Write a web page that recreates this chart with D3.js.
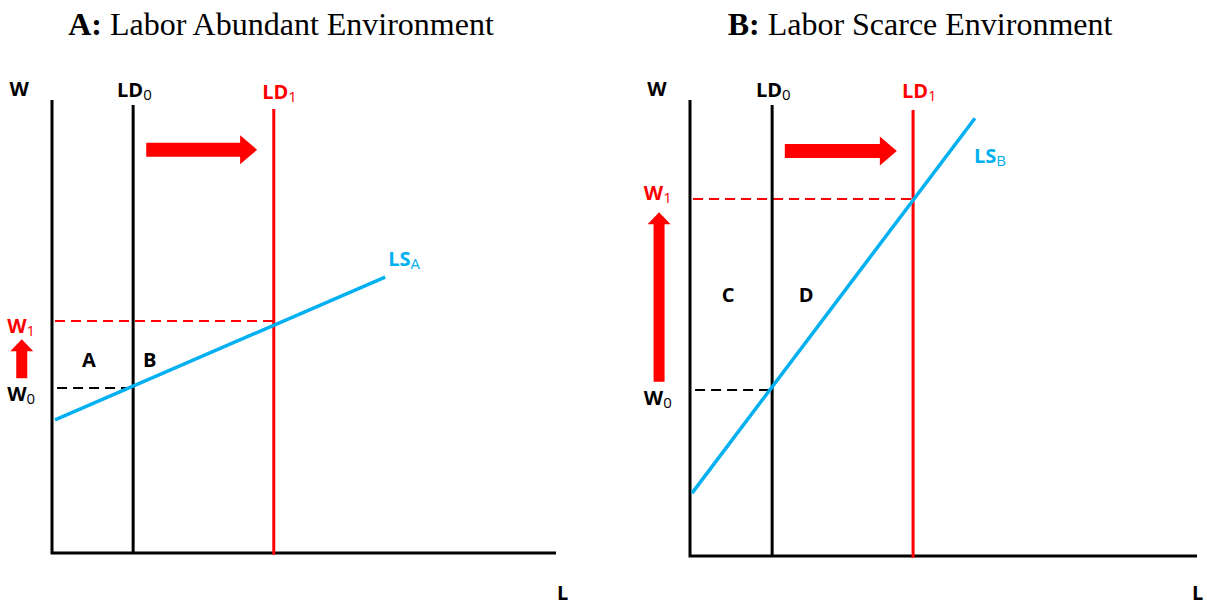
<!DOCTYPE html>
<html>
<head>
<meta charset="utf-8">
<script src="https://cdn.jsdelivr.net/npm/d3@7"></script>
<style>
  html, body { margin: 0; padding: 0; background: #fff; }
  svg { display: block; }
  .lbl { font-family: "Open Sans", "DejaVu Sans", sans-serif; font-weight: 700; font-size: 20px; }
  .sub { font-weight: 400; font-size: 15px; }
  .title { font-family: "Liberation Serif", "Times New Roman", serif; font-size: 32px; }
</style>
</head>
<body>
<svg id="chart" width="1207" height="605"></svg>
<script>
// ---------------- DATA (L and W in chart units, 0..100) ----------------
const panelNames = ["A", "B"];
const titleBold  = ["A:", "B:"];
const titleText  = [" Labor Abundant Environment", " Labor Scarce Environment"];

// labour demand curves (vertical): L position and top W
const ld0L   = [16.1, 16.2];
const ld0Top = [98.9, 98.9];
const ld1L   = [44.0, 44.0];
const ld1Top = [98.0, 97.8];

// labour supply curves: [start L, start W, end L, end W]
const lsA = [[0.6, 29.4], [66.1, 60.9]];
const lsB = [[0.4, 13.8], [56.2, 96.0]];
const lsLines = [lsA, lsB];

// wages
const w0 = [36.4, 36.4];
const w1 = [51.2, 78.3];

// demand-shift arrow (horizontal): [from L, to L, W]
const shiftArrow = [[18.7, 40.7, 89.0], [18.7, 40.8, 88.8]];
// wage-rise arrow (vertical): [L, from W, to W]
const wageArrow = [[-6.0, 38.6, 47.2], [-6.1, 38.2, 75.4]];

// text labels: [text, subscript, L, W, colour key, anchor]
const labelsA = [
  ["W", "", -6.5, 100.9, "k", "middle"],
  ["LD", "0", 12.9, 100.7, "k", "start"],
  ["LD", "1", 41.7, 100.2, "r", "start"],
  ["W", "1", -8.9, 48.6, "r", "start"],
  ["W", "0", -8.9, 33.6, "k", "start"],
  ["A", "", 7.3, 41.1, "k", "middle"],
  ["B", "", 19.4, 41.1, "k", "middle"],
  ["LS", "A", 66.7, 63.4, "b", "start"],
  ["L", "", 100.2, -10.4, "k", "start"]
];
const labelsB = [
  ["W", "", -6.5, 100.9, "k", "middle"],
  ["LD", "0", 13.0, 100.7, "k", "start"],
  ["LD", "1", 41.8, 100.4, "r", "start"],
  ["W", "1", -9.1, 78.1, "r", "start"],
  ["W", "0", -9.1, 33.1, "k", "start"],
  ["C", "", 7.5, 55.7, "k", "middle"],
  ["D", "", 22.9, 55.7, "k", "middle"],
  ["LS", "B", 56.0, 86.2, "b", "start"],
  ["L", "", 99.0, -9.6, "k", "start"]
];
const panelLabels = [labelsA, labelsB];

// ---------------- LAYOUT / STYLE ----------------
const layout = [
  { x0: 52, x1: 556, y0: 553, y1: 100, titleX: 281, titleY: 35 },
  { x0: 690, x1: 1197, y0: 556, y1: 100, titleX: 920, titleY: 35 }
];
const colours = { k: "#000000", r: "#ff0000", b: "#00b0f0" };

const svg = d3.select("#chart");

panelNames.forEach((name, i) => {
  const lay = layout[i];
  const x = d3.scaleLinear().domain([0, 100]).range([lay.x0, lay.x1]);
  const y = d3.scaleLinear().domain([0, 100]).range([lay.y0, lay.y1]);
  const g = svg.append("g").attr("class", "panel-" + name);
  const line = d3.line().x(d => x(d[0])).y(d => y(d[1]));

  // title
  const t = g.append("text").attr("class", "title")
    .attr("x", lay.titleX).attr("y", lay.titleY).attr("text-anchor", "middle");
  t.append("tspan").attr("font-weight", "bold").text(titleBold[i]);
  t.append("tspan").text(titleText[i]);

  // dashed wage lines
  g.append("path").attr("d", line([[0.6, w1[i]], [ld1L[i], w1[i]]]))
    .attr("stroke", colours.r).attr("stroke-width", 2).attr("stroke-dasharray", "10,6").attr("fill", "none");
  g.append("path").attr("d", line([[1.0, w0[i]], [ld0L[i], w0[i]]]))
    .attr("stroke", colours.k).attr("stroke-width", 2).attr("stroke-dasharray", "10,6").attr("fill", "none");

  // axes
  g.append("path").attr("d", line([[0, 100], [0, 0], [100, 0]]))
    .attr("stroke", colours.k).attr("stroke-width", 3).attr("fill", "none");

  // demand curves
  g.append("path").attr("d", line([[ld0L[i], ld0Top[i]], [ld0L[i], 0]]))
    .attr("stroke", colours.k).attr("stroke-width", 3).attr("fill", "none");
  g.append("path").attr("d", line([[ld1L[i], ld1Top[i]], [ld1L[i], -0.4]]))
    .attr("stroke", colours.r).attr("stroke-width", 3).attr("fill", "none");

  // supply curve
  g.append("path").attr("d", line(lsLines[i]))
    .attr("stroke", colours.b).attr("stroke-width", 3.5).attr("fill", "none");

  // horizontal shift arrow
  const [ha, hb, hw] = shiftArrow[i];
  const hx0 = x(ha), hx1 = x(hb), hy = y(hw);
  const headL = 17, headH = 14.5, shaftH = 7;
  g.append("path").attr("fill", colours.r).attr("d",
    `M${hx0},${hy - shaftH} L${hx1 - headL},${hy - shaftH} L${hx1 - headL},${hy - headH} L${hx1},${hy} ` +
    `L${hx1 - headL},${hy + headH} L${hx1 - headL},${hy + shaftH} L${hx0},${hy + shaftH} Z`);

  // vertical wage arrow
  const [va, vw0, vw1] = wageArrow[i];
  const vx = x(va), vy0 = y(vw0), vy1 = y(vw1);
  const vHeadL = 12, vHeadW = 11.5, vShaftW = 5.5;
  g.append("path").attr("fill", colours.r).attr("d",
    `M${vx - vShaftW},${vy0} L${vx - vShaftW},${vy1 + vHeadL} L${vx - vHeadW},${vy1 + vHeadL} L${vx},${vy1} ` +
    `L${vx + vHeadW},${vy1 + vHeadL} L${vx + vShaftW},${vy1 + vHeadL} L${vx + vShaftW},${vy0} Z`);

  // labels
  panelLabels[i].forEach(d => {
    const tx = g.append("text").attr("class", "lbl")
      .attr("x", x(d[2])).attr("y", y(d[3]))
      .attr("text-anchor", d[5]).attr("fill", colours[d[4]]);
    tx.append("tspan").text(d[0]);
    if (d[1]) tx.append("tspan").attr("class", "sub").attr("dy", 3).text(d[1]);
  });
});
</script>
</body>
</html>
